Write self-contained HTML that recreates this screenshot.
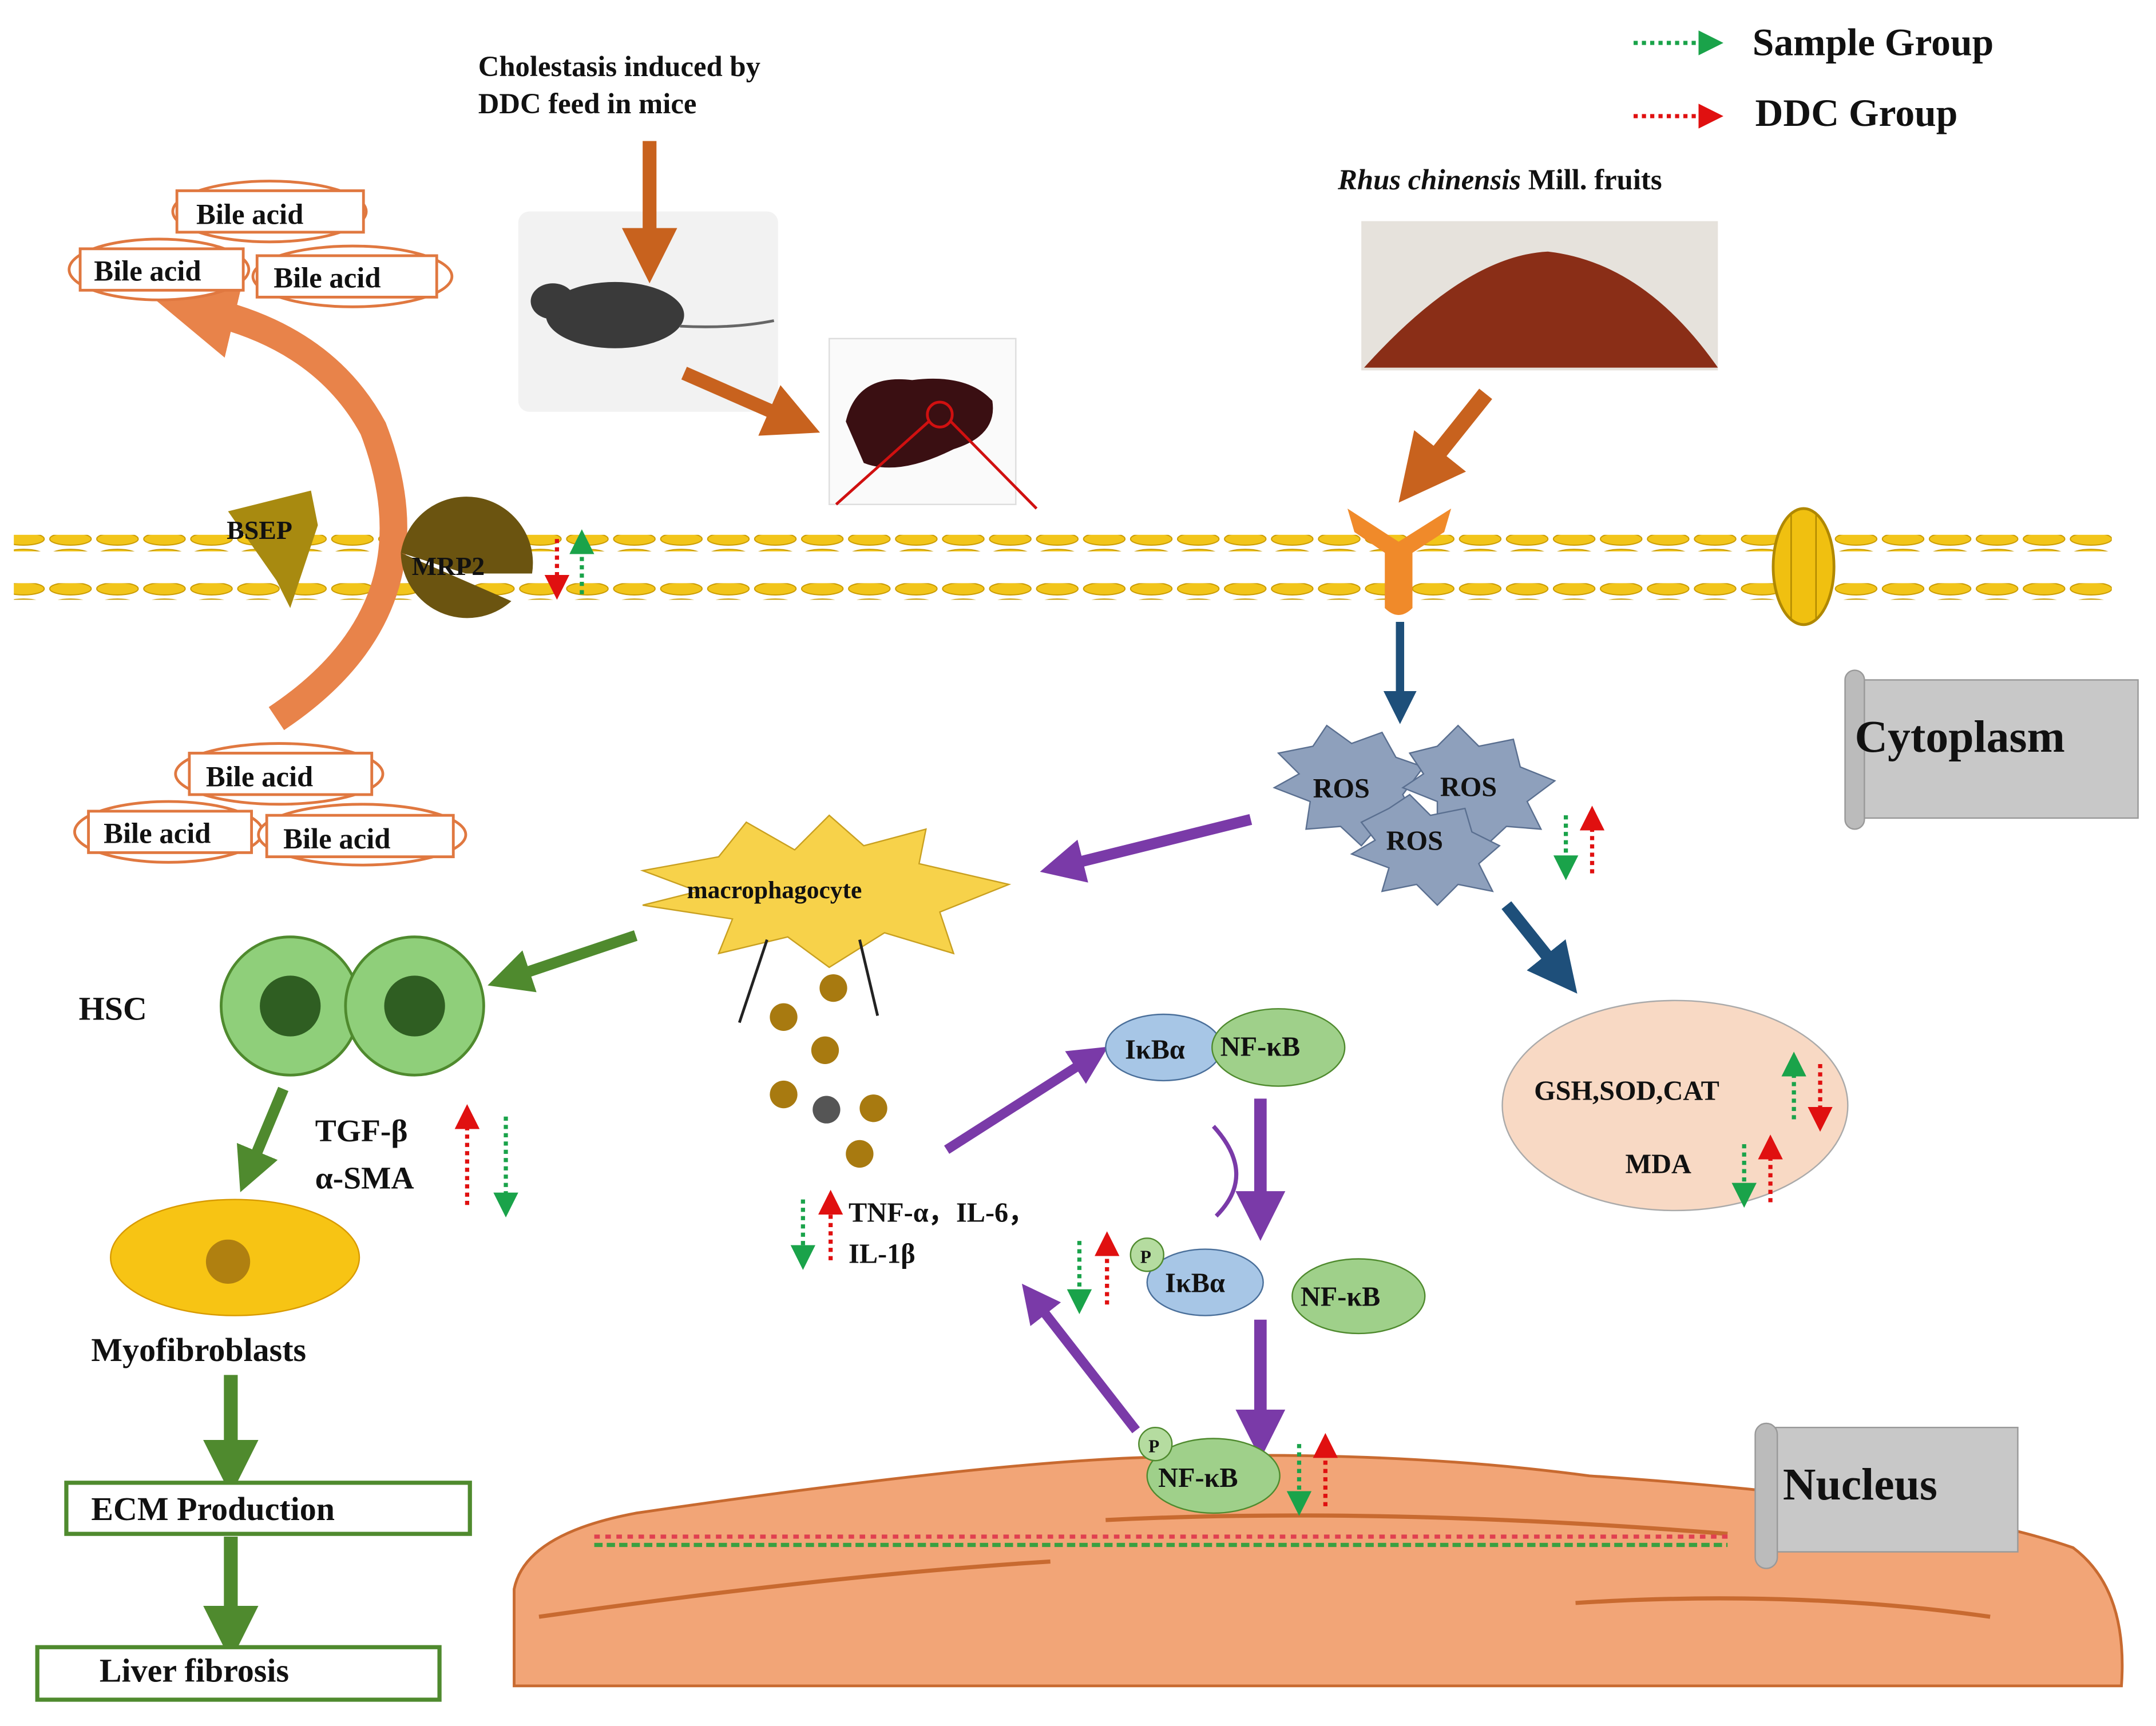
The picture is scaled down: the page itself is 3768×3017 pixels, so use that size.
<!DOCTYPE html>
<html><head><meta charset="utf-8"><style>
html,body{margin:0;padding:0;background:#fff;width:3768px;height:3017px;overflow:hidden}
svg{display:block}
text{font-family:"Liberation Serif",serif;font-weight:bold;fill:#111}
</style></head><body>
<svg width="3768" height="3017" viewBox="0 0 1560 1249" xmlns="http://www.w3.org/2000/svg">
<defs>
<marker id="gh" markerWidth="6" markerHeight="6" refX="3" refY="3" orient="auto"><path d="M0,0L6,3L0,6z" fill="#1aa34a"/></marker>
<marker id="rh" markerWidth="6" markerHeight="6" refX="3" refY="3" orient="auto"><path d="M0,0L6,3L0,6z" fill="#e01010"/></marker>
<marker id="br" markerWidth="4" markerHeight="4" refX="2" refY="2" orient="auto"><path d="M0,0L4,2L0,4z" fill="#c8621e"/></marker>
<marker id="ob" markerWidth="3" markerHeight="3" refX="1" refY="1.5" orient="auto"><path d="M0,0L3,1.5L0,3z" fill="#e8834a"/></marker>
<marker id="bl" markerWidth="4" markerHeight="4" refX="2" refY="2" orient="auto"><path d="M0,0L4,2L0,4z" fill="#1e4f7a"/></marker>
<marker id="pu" markerWidth="4" markerHeight="4" refX="2" refY="2" orient="auto"><path d="M0,0L4,2L0,4z" fill="#7a3aa8"/></marker>
<marker id="gr" markerWidth="4" markerHeight="4" refX="2" refY="2" orient="auto"><path d="M0,0L4,2L0,4z" fill="#4f8a2e"/></marker>
<pattern id="mem" width="34" height="12" patternUnits="userSpaceOnUse"><ellipse cx="17" cy="6" rx="15" ry="4.5" fill="#f2c51a" stroke="#c99a00" stroke-width="0.8"/></pattern>
</defs>
<!-- legend -->
<line x1="1182" y1="31" x2="1238" y2="31" stroke="#1aa34a" stroke-width="3" stroke-dasharray="3,3" marker-end="url(#gh)"/>
<text x="1268" y="40" font-size="28">Sample Group</text>
<line x1="1182" y1="84" x2="1238" y2="84" stroke="#e01010" stroke-width="3" stroke-dasharray="3,3" marker-end="url(#rh)"/>
<text x="1270" y="91" font-size="28">DDC Group</text>
<!-- top -->
<text x="346" y="55" font-size="21">Cholestasis induced by</text>
<text x="346" y="82" font-size="21">DDC feed in mice</text>
<rect x="375" y="153" width="188" height="145" rx="8" fill="#f2f2f2"/>
<line x1="470" y1="102" x2="470" y2="185" stroke="#c8621e" stroke-width="10" marker-end="url(#br)"/>
<ellipse cx="445" cy="228" rx="50" ry="24" fill="#3a3a3a"/>
<ellipse cx="400" cy="218" rx="16" ry="13" fill="#3a3a3a"/>
<path d="M492,236 Q530,238 560,232" stroke="#666" stroke-width="2" fill="none"/>
<line x1="495" y1="270" x2="575" y2="305" stroke="#c8621e" stroke-width="10" marker-end="url(#br)"/>
<rect x="600" y="245" width="135" height="120" fill="#fafafa" stroke="#ddd"/>
<path d="M612,305 Q620,270 660,275 Q700,270 718,290 Q722,315 690,325 Q650,345 625,335 Z" fill="#3a0f12"/>
<circle cx="680" cy="300" r="9" fill="none" stroke="#d01010" stroke-width="2"/>
<line x1="672" y1="305" x2="605" y2="365" stroke="#d01010" stroke-width="2"/>
<line x1="688" y1="305" x2="750" y2="368" stroke="#d01010" stroke-width="2"/>
<text x="968" y="137" font-size="21"><tspan font-style="italic">Rhus chinensis</tspan> Mill. fruits</text>
<rect x="985" y="160" width="258" height="108" fill="#e6e2dc"/>
<path d="M987,266 Q1060,185 1120,182 Q1190,190 1243,266 Z" fill="#8a2e17"/>
<line x1="1075" y1="285" x2="1027" y2="345" stroke="#c8621e" stroke-width="12" marker-end="url(#br)"/>
<!-- membrane -->
<rect x="10" y="387" width="1518" height="12" fill="url(#mem)"/>
<rect x="10" y="422" width="1518" height="12" fill="url(#mem)"/>
<path d="M975,368 L1012,392 L1050,368 L1045,385 L1022,400 L1022,440 Q1012,450 1002,440 L1002,400 L980,385 Z" fill="#f08a2a"/>
<ellipse cx="1305" cy="410" rx="22" ry="42" fill="#f0c010" stroke="#b08800" stroke-width="2"/>
<line x1="1296" y1="372" x2="1296" y2="448" stroke="#b08800"/><line x1="1314" y1="372" x2="1314" y2="448" stroke="#b08800"/>
<!-- bile acid arc -->
<path d="M200,520 Q320,440 270,310 Q235,245 150,225" stroke="#e8834a" stroke-width="20" fill="none" marker-end="url(#ob)"/>
<path d="M165,370 L225,355 L230,380 L210,440 L200,420 Z" fill="#a88a10"/>
<text x="164" y="390" font-size="19">BSEP</text>
<path d="M290,400 A48,48 0 1,1 385,415 L337,415 Z" fill="#6b5410"/>
<path d="M290,400 A48,48 0 0,0 370,435 Z" fill="#6b5410"/>
<text x="298" y="416" font-size="19">MRP2</text>
<line x1="403" y1="390" x2="403" y2="425" stroke="#e01010" stroke-width="3" stroke-dasharray="3,3" marker-end="url(#rh)"/>
<line x1="421" y1="430" x2="421" y2="392" stroke="#1aa34a" stroke-width="3" stroke-dasharray="3,3" marker-end="url(#gh)"/>
<g fill="#fff" stroke="#e07840" stroke-width="2">
<ellipse cx="195" cy="153" rx="70" ry="22"/><ellipse cx="115" cy="195" rx="65" ry="22"/><ellipse cx="255" cy="200" rx="72" ry="22"/>
<ellipse cx="202" cy="560" rx="75" ry="22"/><ellipse cx="122" cy="602" rx="68" ry="22"/><ellipse cx="262" cy="604" rx="75" ry="22"/>
<rect x="128" y="138" width="135" height="30"/><rect x="58" y="180" width="118" height="30"/><rect x="186" y="185" width="130" height="30"/>
<rect x="137" y="545" width="132" height="30"/><rect x="64" y="587" width="118" height="30"/><rect x="193" y="590" width="135" height="30"/>
</g>
<g font-size="21"><text x="142" y="162">Bile acid</text><text x="68" y="203">Bile acid</text><text x="198" y="208">Bile acid</text>
<text x="149" y="569">Bile acid</text><text x="75" y="610">Bile acid</text><text x="205" y="614">Bile acid</text></g>
<!-- cytoplasm scroll -->
<rect x="1337" y="492" width="210" height="100" fill="#c8c8c8" stroke="#999"/>
<rect x="1335" y="485" width="14" height="115" rx="7" fill="#bbb" stroke="#999"/>
<text x="1342" y="544" font-size="33">Cytoplasm</text>
<!-- ROS -->
<line x1="1013" y1="450" x2="1013" y2="512" stroke="#1e4f7a" stroke-width="6" marker-end="url(#bl)"/>
<g fill="#8ea0bc" stroke="#5a6f90">
<polygon points="925,545 950,540 960,525 978,538 1000,530 1010,548 1030,555 1015,575 1025,595 1000,595 985,612 970,598 945,600 948,580 922,570 940,560"/>
<polygon points="1020,545 1040,540 1055,525 1070,540 1095,535 1100,555 1125,565 1105,580 1115,600 1090,598 1075,612 1060,598 1040,600 1040,580 1015,570 1030,560"/>
<polygon points="985,595 1005,585 1020,575 1035,590 1060,585 1065,602 1085,612 1070,625 1080,645 1055,640 1040,655 1025,640 1000,645 1005,628 978,618 995,608"/>
</g>
<g font-size="20"><text x="950" y="577">ROS</text><text x="1042" y="576">ROS</text><text x="1003" y="615">ROS</text></g>
<line x1="1133" y1="590" x2="1133" y2="628" stroke="#1aa34a" stroke-width="3" stroke-dasharray="3,3" marker-end="url(#gh)"/>
<line x1="1152" y1="632" x2="1152" y2="592" stroke="#e01010" stroke-width="3" stroke-dasharray="3,3" marker-end="url(#rh)"/>
<line x1="905" y1="593" x2="768" y2="627" stroke="#7a3aa8" stroke-width="8" marker-end="url(#pu)"/>
<line x1="1090" y1="655" x2="1130" y2="705" stroke="#1e4f7a" stroke-width="9" marker-end="url(#bl)"/>
<ellipse cx="1212" cy="800" rx="125" ry="76" fill="#f8d9c4" stroke="#aaa"/>
<text x="1110" y="796" font-size="20">GSH,SOD,CAT</text>
<text x="1176" y="849" font-size="20">MDA</text>
<line x1="1298" y1="810" x2="1298" y2="770" stroke="#1aa34a" stroke-width="3" stroke-dasharray="3,3" marker-end="url(#gh)"/>
<line x1="1317" y1="770" x2="1317" y2="810" stroke="#e01010" stroke-width="3" stroke-dasharray="3,3" marker-end="url(#rh)"/>
<line x1="1262" y1="828" x2="1262" y2="865" stroke="#1aa34a" stroke-width="3" stroke-dasharray="3,3" marker-end="url(#gh)"/>
<line x1="1281" y1="870" x2="1281" y2="830" stroke="#e01010" stroke-width="3" stroke-dasharray="3,3" marker-end="url(#rh)"/>
<!-- macrophage -->
<polygon points="465,630 520,620 540,595 575,615 600,590 625,612 670,600 665,625 730,640 680,660 690,690 640,675 600,700 570,678 520,690 530,665 465,655 505,645" fill="#f7d24a" stroke="#c9a020"/>
<text x="497" y="650" font-size="18">macrophagocyte</text>
<line x1="555" y1="680" x2="535" y2="740" stroke="#222" stroke-width="2"/>
<line x1="622" y1="680" x2="635" y2="735" stroke="#222" stroke-width="2"/>
<g fill="#a87a10"><circle cx="603" cy="715" r="10"/><circle cx="567" cy="736" r="10"/><circle cx="597" cy="760" r="10"/><circle cx="567" cy="792" r="10"/><circle cx="632" cy="802" r="10"/><circle cx="622" cy="835" r="10"/></g>
<circle cx="598" cy="803" r="10" fill="#555"/>
<text x="614" y="884" font-size="20">TNF-α，IL-6，</text>
<text x="614" y="914" font-size="20">IL-1β</text>
<line x1="581" y1="868" x2="581" y2="910" stroke="#1aa34a" stroke-width="3" stroke-dasharray="3,3" marker-end="url(#gh)"/>
<line x1="601" y1="912" x2="601" y2="870" stroke="#e01010" stroke-width="3" stroke-dasharray="3,3" marker-end="url(#rh)"/>
<!-- HSC -->
<line x1="460" y1="677" x2="368" y2="708" stroke="#4f8a2e" stroke-width="8" marker-end="url(#gr)"/>
<text x="57" y="738" font-size="24">HSC</text>
<g fill="#8fcf7a" stroke="#4f8a2e" stroke-width="2">
<circle cx="210" cy="728" r="50"/><circle cx="300" cy="728" r="50"/></g>
<g fill="#2f5e22"><circle cx="210" cy="728" r="22"/><circle cx="300" cy="728" r="22"/></g>
<line x1="205" y1="788" x2="180" y2="848" stroke="#4f8a2e" stroke-width="8" marker-end="url(#gr)"/>
<text x="228" y="826" font-size="23">TGF-β</text>
<text x="228" y="860" font-size="23">α-SMA</text>
<line x1="338" y1="872" x2="338" y2="808" stroke="#e01010" stroke-width="3" stroke-dasharray="3,3" marker-end="url(#rh)"/>
<line x1="366" y1="808" x2="366" y2="872" stroke="#1aa34a" stroke-width="3" stroke-dasharray="3,3" marker-end="url(#gh)"/>
<ellipse cx="170" cy="910" rx="90" ry="42" fill="#f7c414" stroke="#d89a00"/>
<circle cx="165" cy="913" r="16" fill="#b08010"/>
<text x="66" y="985" font-size="24">Myofibroblasts</text>
<line x1="167" y1="995" x2="167" y2="1062" stroke="#4f8a2e" stroke-width="10" marker-end="url(#gr)"/>
<rect x="48" y="1073" width="292" height="37" fill="#fff" stroke="#4f8a2e" stroke-width="3"/>
<text x="66" y="1100" font-size="24">ECM Production</text>
<line x1="167" y1="1112" x2="167" y2="1182" stroke="#4f8a2e" stroke-width="10" marker-end="url(#gr)"/>
<rect x="27" y="1192" width="291" height="38" fill="#fff" stroke="#4f8a2e" stroke-width="3"/>
<text x="72" y="1217" font-size="24">Liver fibrosis</text>
<!-- nucleus -->
<path d="M372,1220 L372,1150 Q380,1110 460,1095 Q700,1060 820,1055 Q1000,1048 1150,1068 Q1400,1085 1500,1120 Q1540,1150 1535,1220 Z" fill="#f2a577" stroke="#c86a30" stroke-width="2"/>
<path d="M390,1170 Q600,1140 760,1130 M800,1100 Q1000,1090 1250,1110 M1140,1160 Q1300,1150 1440,1170" stroke="#c86a30" stroke-width="3" fill="none"/>
<path d="M430,1118 L1250,1118" stroke="#3aa040" stroke-width="3" stroke-dasharray="6,3"/>
<path d="M430,1112 L1250,1112" stroke="#e04050" stroke-width="3" stroke-dasharray="4,4"/>
<rect x="1285" y="1033" width="175" height="90" fill="#c8c8c8" stroke="#999"/>
<rect x="1270" y="1030" width="16" height="105" rx="8" fill="#bbb" stroke="#999"/>
<text x="1290" y="1085" font-size="33">Nucleus</text>
<!-- NF-kB pathway -->
<line x1="685" y1="832" x2="790" y2="765" stroke="#7a3aa8" stroke-width="7" marker-end="url(#pu)"/>
<ellipse cx="842" cy="758" rx="42" ry="24" fill="#a7c6e6" stroke="#4a6f9a"/>
<ellipse cx="925" cy="758" rx="48" ry="28" fill="#9fd08a" stroke="#4f8a2e"/>
<text x="814" y="766" font-size="20">IκBα</text>
<text x="883" y="764" font-size="20">NF-κB</text>
<line x1="912" y1="795" x2="912" y2="880" stroke="#7a3aa8" stroke-width="9" marker-end="url(#pu)"/>
<path d="M878,815 Q910,850 880,880" stroke="#7a3aa8" stroke-width="3" fill="none"/>
<ellipse cx="872" cy="928" rx="42" ry="24" fill="#a7c6e6" stroke="#4a6f9a"/>
<circle cx="830" cy="908" r="12" fill="#b5dca0" stroke="#4f8a2e"/><text x="825" y="914" font-size="13">P</text>
<text x="843" y="935" font-size="20">IκBα</text>
<ellipse cx="983" cy="938" rx="48" ry="27" fill="#9fd08a" stroke="#4f8a2e"/>
<text x="941" y="945" font-size="20">NF-κB</text>
<line x1="781" y1="898" x2="781" y2="942" stroke="#1aa34a" stroke-width="3" stroke-dasharray="3,3" marker-end="url(#gh)"/>
<line x1="801" y1="944" x2="801" y2="900" stroke="#e01010" stroke-width="3" stroke-dasharray="3,3" marker-end="url(#rh)"/>
<line x1="912" y1="955" x2="912" y2="1038" stroke="#7a3aa8" stroke-width="9" marker-end="url(#pu)"/>
<line x1="822" y1="1035" x2="748" y2="940" stroke="#7a3aa8" stroke-width="7" marker-end="url(#pu)"/>
<ellipse cx="878" cy="1068" rx="48" ry="27" fill="#9fd08a" stroke="#4f8a2e"/>
<circle cx="836" cy="1045" r="12" fill="#b5dca0" stroke="#4f8a2e"/><text x="831" y="1051" font-size="13">P</text>
<text x="838" y="1076" font-size="20">NF-κB</text>
<line x1="940" y1="1045" x2="940" y2="1088" stroke="#1aa34a" stroke-width="3" stroke-dasharray="3,3" marker-end="url(#gh)"/>
<line x1="959" y1="1090" x2="959" y2="1046" stroke="#e01010" stroke-width="3" stroke-dasharray="3,3" marker-end="url(#rh)"/>
</svg>
</body></html>
